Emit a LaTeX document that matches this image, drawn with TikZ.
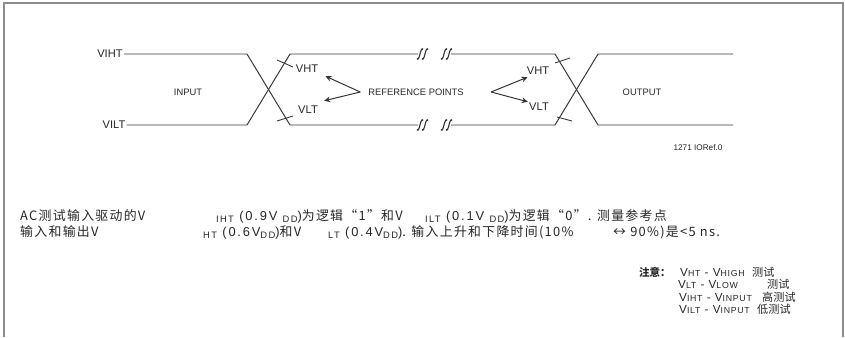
\documentclass[tikz,border=0pt]{standalone}
\usepackage{fontspec}
\setmainfont{Liberation Sans}
\newfontfamily\cjk{Noto Sans CJK SC}[LetterSpace=10]
\newfontfamily\cjkn{Noto Sans CJK SC}
\newfontfamily\arsp{Liberation Sans}[LetterSpace=14]
\newfontfamily\arn{Liberation Sans}[LetterSpace=8]
\usetikzlibrary{arrows.meta}
\newcommand{\lo}[1]{\raisebox{-2pt}{\fontsize{8}{9}\selectfont\arsp #1}}
\newcommand{\nsb}[1]{\raisebox{-0.3pt}{\fontsize{7.5}{8}\selectfont #1}}

\begin{document}
\begin{tikzpicture}[x=0.03cm, y=-0.03cm,
    every node/.style={font=\fontsize{9.5}{11}\selectfont, text=black!85},
    wv/.style={draw=black!78, line width=0.85pt},
    tk/.style={draw=black!78, line width=0.75pt},
    lb/.style={inner sep=1pt},
    sm/.style={inner sep=1pt, font=\fontsize{8}{9}\selectfont},
    e/.style={-{Stealth[length=1.8mm, width=1.7mm]}, draw=black!80, line width=0.85pt},
    txt/.style={anchor=base west, inner sep=0pt, font=\fontsize{11}{12}\selectfont\arsp},
    nt/.style={anchor=base west, inner sep=0pt, font=\fontsize{10}{11}\selectfont\arn},
    ntc/.style={anchor=base west, inner sep=0pt, font=\fontsize{9.5}{11}\selectfont\cjkn},
    brk/.pic={\draw[black!80, line width=0.95pt] (-3,4.5) .. controls (-2,6.5) and (-1,4) .. (0,0)
      .. controls (1,-4) and (2,-6.5) .. (3,-4.5);},
  ]
  \useasboundingbox (0,0) rectangle (845,337);
  \draw[draw=black!45, line width=1.2pt] (4,337) -- (4,3) -- (843,3) -- (843,337);

  \node[lb] (vih) at (110,54) {VIHT};
  \node[lb] (vil) at (114,125) {VILT};
  \draw[wv] (vih.east) -- (247,54) -- (290,125) -- (418,125);
  \draw[wv] (vil.east) -- (247,125) -- (290,54) -- (418,54);
  \draw[wv] (451,54) -- (555,54) -- (598,125) -- (733,125);
  \draw[wv] (451,125) -- (555,125) -- (598,54) -- (733,54);
  \foreach \x in {420,425,444,449} {
    \pic at (\x,54) {brk};
    \pic at (\x,125) {brk};
  }
  \draw[tk] (277,60) -- (293,67);
  \draw[tk] (277,121) -- (293,116);
  \draw[tk] (555,63) -- (570,58);
  \draw[tk] (557,117) -- (572,121);

  \node[lb] (vhtl) at (307,69) {VHT};
  \node[lb] (vltl) at (308,110) {VLT};
  \node[lb] (vhtr) at (538,71) {VHT};
  \node[lb] (vltr) at (539,107) {VLT};
  \node[sm] (ref) at (416,92) {REFERENCE POINTS};
  \node[sm] (inp) at (188,92) {INPUT};
  \node[sm] (outp) at (642,92) {OUTPUT};
  \node[inner sep=1pt, font=\fontsize{7}{8}\selectfont] (fig) at (698,148) {1271 IORef.0};

  \coordinate (refl) at ([xshift=-2mm]ref.west);
  \coordinate (refr) at ([xshift=7.8mm]ref.east);
  \draw[e] (refl) -- ([shift={(6,2)}]vhtl.south east);
  \draw[e] (refl) -- ([shift={(5,-4)}]vltl.north east);
  \draw[e] (refr) -- ([shift={(2,1)}]vhtr.south west);
  \draw[e] (refr) -- (vltr.north west);

  \node[txt] (l1a) at (20,220) {\cjk AC测试输入驱动的V};
  \node[txt] (l1b) at (216,220) {\lo{IHT} (0.9V \lo{DD})\cjk 为逻辑“1”和V};
  \node[txt] (l1c) at (425,220) {\lo{ILT} (0.1V \lo{DD})\cjk 为逻辑“0”. 测量参考点};
  \node[txt] (l2a) at (20,236) {\cjk 输入和输出V};
  \node[txt] (l2b) at (203,236) {\lo{HT} (0.6V\lo{DD})\cjk 和V};
  \node[txt] (l2c) at (328,236) {\lo{LT} (0.4V\lo{DD})\cjk . 输入上升和下降时间(10\%};
  \node[txt] (l2d) at (613,236) {\cjk ↔ 90\%)是<5 ns.};

  \node[anchor=base east, inner sep=0pt, font=\fontsize{9}{11}\selectfont\cjkn\bfseries] (note) at (671,276) {注意：};
  \node[nt] (n1) at (680,276) {V\nsb{HT} - V\nsb{HIGH}};
  \node[ntc] (n1c) at (752,276) {测试};
  \node[nt] (n2) at (678,288.5) {V\nsb{LT} - V\nsb{LOW}};
  \node[ntc] (n2c) at (767,288.5) {测试};
  \node[nt] (n3) at (679,301) {V\nsb{IHT} - V\nsb{INPUT}};
  \node[ntc] (n3c) at (762,301) {高测试};
  \node[nt] (n4) at (679,313.5) {V\nsb{ILT} - V\nsb{INPUT}};
  \node[ntc] (n4c) at (757,313.5) {低测试};
\end{tikzpicture}
\end{document}
